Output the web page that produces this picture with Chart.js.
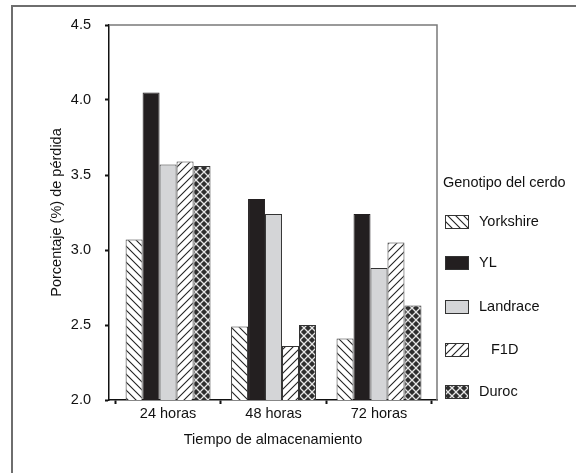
<!DOCTYPE html>
<html>
<head>
<meta charset="utf-8">
<script src="https://cdn.jsdelivr.net/npm/chart.js@4.4.0/dist/chart.umd.min.js"></script>
<style>
  html, body { margin: 0; padding: 0; background: #fff; }
</style>
</head>
<body>
<canvas id="myChart" width="576" height="473"></canvas>
<script>
const categories = ["24 horas", "48 horas", "72 horas"];
const seriesNames = ["Yorkshire", "YL", "Landrace", "F1D", "Duroc"];
const yorkshire = [3.07, 2.49, 2.41];
const yl = [4.05, 3.34, 3.24];
const landrace = [3.57, 3.24, 2.88];
const f1d = [3.59, 2.36, 3.05];
const duroc = [3.56, 2.50, 2.63];
const yTicks = [2.0, 2.5, 3.0, 3.5, 4.0, 4.5];

const FONT = "'Liberation Sans', Arial, sans-serif";
const FS = 14.5;

function makePattern(kind) {
    const c = document.createElement("canvas");
    const s = 8;
    c.width = s; c.height = s;
    const g = c.getContext("2d");
    if (kind === "back") {
        g.fillStyle = "#fff"; g.fillRect(0, 0, s, s);
        g.strokeStyle = "#222"; g.lineWidth = 1.1;
        g.beginPath();
        g.moveTo(-1, -1); g.lineTo(s + 1, s + 1);
        g.moveTo(-1 - s, -1); g.lineTo(1, s + 1);
        g.moveTo(s - 1, -1); g.lineTo(2 * s + 1, s + 1);
        g.stroke();
    } else if (kind === "fwd") {
        g.fillStyle = "#fff"; g.fillRect(0, 0, s, s);
        g.strokeStyle = "#222"; g.lineWidth = 1.1;
        g.beginPath();
        g.moveTo(-1, s + 1); g.lineTo(s + 1, -1);
        g.moveTo(-1 - s, s + 1); g.lineTo(1, -1);
        g.moveTo(s - 1, s + 1); g.lineTo(2 * s + 1, -1);
        g.stroke();
    } else {
        g.fillStyle = "#2e2e2e"; g.fillRect(0, 0, s, s);
        g.strokeStyle = "#e6e6e6"; g.lineWidth = 1.3;
        g.beginPath();
        g.moveTo(0, 0); g.lineTo(s, s);
        g.moveTo(0, s); g.lineTo(s, 0);
        g.stroke();
    }
    return document.getElementById("myChart").getContext("2d").createPattern(c, "repeat");
}

const fills = [makePattern("back"), "#231f20", "#d4d5d7", makePattern("fwd"), makePattern("cross")];
const values = [yorkshire, yl, landrace, f1d, duroc];

const framePlugin = {
    id: "frame",
    beforeDraw(chart) {
        const ctx = chart.ctx;
        ctx.save();
        ctx.fillStyle = "#fff";
        ctx.fillRect(0, 0, chart.width, chart.height);
        ctx.strokeStyle = "#6e6e6e";
        ctx.lineWidth = 2;
        ctx.beginPath();
        ctx.moveTo(12, chart.height);
        ctx.lineTo(12, 6);
        ctx.lineTo(chart.width, 6);
        ctx.stroke();
        ctx.restore();
    },
    afterDraw(chart) {
        const ctx = chart.ctx;
        const a = chart.chartArea;
        ctx.save();
        ctx.strokeStyle = "#7a7a7a";
        ctx.lineWidth = 1.5;
        ctx.beginPath();
        ctx.moveTo(a.left, a.top);
        ctx.lineTo(a.right, a.top);
        ctx.lineTo(a.right, a.bottom);
        ctx.stroke();

        // legend
        ctx.fillStyle = "#111";
        ctx.font = FS + "px " + FONT;
        ctx.textBaseline = "middle";
        ctx.textAlign = "left";
        ctx.fillText("Genotipo del cerdo", 443, 183);
        const ys = [222, 263, 307, 350, 392];
        chart.data.datasets.forEach((ds, i) => {
            const y = ys[i];
            ctx.fillStyle = ds.backgroundColor;
            ctx.fillRect(445, y - 7, 24, 14);
            ctx.strokeStyle = "#333";
            ctx.lineWidth = 1;
            ctx.strokeRect(445.5, y - 6.5, 23, 13);
            ctx.fillStyle = "#111";
            ctx.fillText(ds.label, ds.label === "F1D" ? 491 : 479, y);
        });
        ctx.restore();
    }
};

const data = {
    labels: categories.map((c, i) => i),
    datasets: seriesNames.map((name, i) => ({
        label: name,
        data: values[i],
        backgroundColor: fills[i],
        borderColor: i === 1 ? "#231f20" : "#333",
        borderWidth: 1,
        categoryPercentage: 0.805,
        barPercentage: 1.0
    }))
};

const config = {
    type: "bar",
    data: data,
    plugins: [framePlugin],
    options: {
        responsive: false,
        animation: false,
        layout: { padding: { left: 0, right: 139, top: 25, bottom: 0 } },
        plugins: {
            legend: { display: false },
            tooltip: { enabled: false }
        },
        scales: {
            x: {
                type: "linear",
                offset: false,
                min: -0.56,
                max: 2.55,
                afterBuildTicks(scale) { scale.ticks = categories.map((c, i) => ({ value: i })); },
                grid: { drawOnChartArea: false, tickLength: 4, tickWidth: 2, color: "#111" },
                border: { color: "#111", width: 1.5 },
                ticks: {
                    color: "#111",
                    font: { family: FONT, size: FS },
                    padding: 1,
                    maxRotation: 0,
                    callback: function(value) { return categories[value]; }
                },
                title: {
                    display: true,
                    text: "Tiempo de almacenamiento",
                    color: "#111",
                    font: { family: FONT, size: FS },
                    padding: { top: 0, bottom: 24 }
                },
                afterFit(scale) { scale.height = 73; }
            },
            y: {
                min: 2.0,
                max: 4.5,
                afterBuildTicks(scale) { scale.ticks = yTicks.map(v => ({ value: v })); },
                grid: { drawOnChartArea: false, tickLength: 4, tickWidth: 2, color: "#111" },
                border: { color: "#111", width: 1.5 },
                ticks: {
                    color: "#111",
                    font: { family: FONT, size: FS },
                    padding: 14,
                    callback: function(value) { return Number(value).toFixed(1); }
                },
                title: {
                    display: true,
                    text: "Porcentaje (%) de pérdida",
                    color: "#111",
                    font: { family: FONT, size: FS },
                    padding: { top: 48, bottom: 0 }
                },
                afterFit(scale) { scale.width = 109; }
            }
        }
    }
};

const myChart = new Chart(document.getElementById("myChart").getContext("2d"), config);
</script>
</body>
</html>
